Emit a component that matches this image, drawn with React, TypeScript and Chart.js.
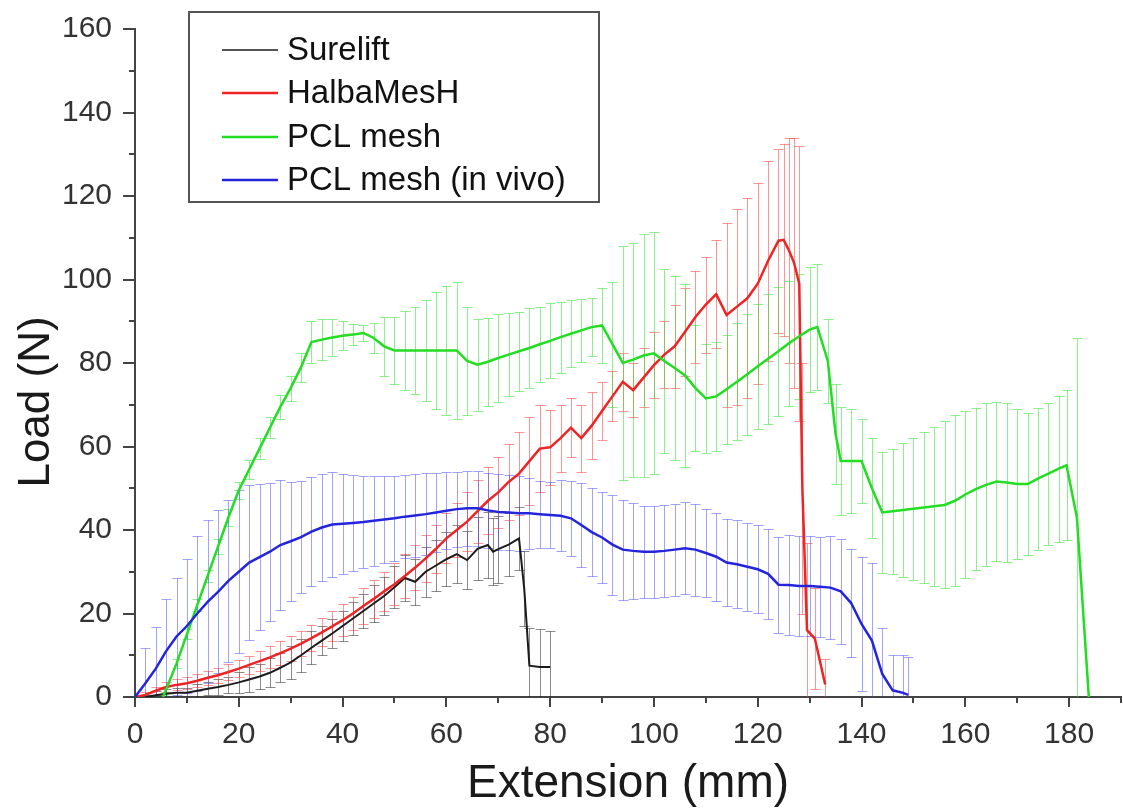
import React, { useEffect, useRef } from "react";
import { Chart, registerables } from "chart.js";

Chart.register(...registerables);

const FONT = '"Liberation Sans", Arial, Helvetica, sans-serif';

const seriesNames = ["Surelift", "HalbaMesH", "PCL mesh", "PCL mesh (in vivo)"];
const xTitle = "Extension (mm)";
const yTitle = "Load (N)";

// Surelift
const sureliftX = [
  2, 4, 6, 8, 10, 12, 14, 16, 18, 20,
  22, 24, 26, 28, 30, 32, 34, 36, 38, 40,
  42, 44, 46, 48, 50, 52, 54, 56, 58, 60,
  62, 64, 66, 68, 69, 70, 72, 74, 75, 76,
  78, 80,
];
const sureliftLoad = [
  0, 0.4, 0.8, 1, 1, 1.5, 2, 2.4, 2.9, 3.5,
  4.2, 4.9, 5.8, 7, 8.3, 10, 11.8, 13.5, 15.2, 17,
  18.8, 20.6, 22.4, 24.2, 26.3, 28.5, 27.6, 30, 31.5, 33,
  34.2, 32.8, 35.5, 36.4, 34.8, 35.4, 36.5, 38, 26, 7.5,
  7.2, 7.2,
];
const sureliftErr = [
  0.5, 1, 1, 1.2, 1.2, 1.5, 1.5, 2, 2, 2.5,
  3, 3, 3.5, 3.5, 4, 4, 4, 3.5, 3.5, 3.5,
  4, 4, 4.5, 4.5, 5, 5.5, 5.5, 6, 6, 6.5,
  7, 7, 7.5, 8, 8, 8, 7.5, 7.5, 9, 9,
  9, 8.5,
];

// HalbaMesH
const halbaX = [
  0, 2, 4, 6, 8, 10, 12, 14, 16, 18,
  20, 22, 24, 26, 28, 30, 32, 34, 36, 38,
  40, 42, 44, 46, 48, 50, 52, 54, 56, 58,
  60, 62, 64, 66, 68, 70, 72, 74, 76, 78,
  80, 82, 84, 86, 88, 90, 92, 94, 96, 98,
  100, 102, 104, 106, 108, 110, 112, 114, 116, 118,
  120, 122, 124, 125, 126, 127, 128, 128.6, 129.5, 131,
  133,
];
const halbaLoad = [
  0, 0.5, 1.5, 2.4, 2.9, 3.3, 3.9, 4.6, 5.2, 6,
  6.8, 7.7, 8.6, 9.5, 10.5, 11.6, 12.8, 14.1, 15.5, 16.9,
  18.4, 20, 21.8, 23.5, 25.3, 27, 29, 31, 33.2, 35.5,
  38, 40, 42, 44.5, 47, 49, 51.5, 53.5, 56.5, 59.5,
  59.8, 62, 64.5, 62, 65, 68.5, 72, 75.5, 73.5, 76.5,
  79.5, 82, 84, 87.5, 91, 94, 96.5, 91.5, 93.5, 95.5,
  99, 104.5, 109.3, 109.5, 107, 104, 99, 50, 16, 14,
  3,
];
const halbaErr = [
  0, 0.8, 1, 1.2, 1.3, 1.5, 1.5, 1.7, 1.8, 2,
  2, 2.2, 2.4, 2.6, 2.8, 3, 3, 3.2, 3.4, 3.6,
  3.8, 4, 4.2, 4.5, 4.7, 5, 5.2, 5.4, 5.6, 5.8,
  6, 6.5, 7, 7.5, 8, 8.5, 9, 10, 10.5, 10.5,
  9, 8, 7, 8, 8, 7, 6, 7, 6.5, 7,
  8, 8, 10, 10.5, 11, 11.5, 13, 22, 23.5, 24,
  24, 24, 22, 23, 27, 30, 33, 30, 21, 12,
  6,
];

// PCL mesh
const pclX = [
  5.4, 8, 10, 12, 14, 16, 18, 20, 22, 24,
  26, 28, 30, 32, 34, 36, 38, 40, 42, 44,
  46, 48, 50, 52, 54, 56, 58, 60, 62, 64,
  66, 68, 70, 72, 74, 76, 78, 80, 82, 84,
  86, 88, 90, 92, 94, 96, 98, 100, 102, 104,
  106, 108, 110, 112, 114, 116, 118, 120, 122, 124,
  126, 128, 130, 131.5, 133.5, 135, 136, 138, 140, 142,
  144, 146, 148, 150, 152, 154, 156, 158, 160, 162,
  164, 166, 168, 170, 172, 174, 176, 178, 179.5, 181.5,
  183.8,
];
const pclLoad = [
  0, 8, 15, 22, 29, 36, 43, 49.5, 54.5, 59.5,
  64.5, 69.5, 74, 79, 85, 85.6, 86.1, 86.5, 86.8, 87.2,
  86, 84, 83, 83, 83, 83, 83, 83, 83, 80.5,
  79.6, 80.3, 81.2, 82, 82.8, 83.6, 84.5, 85.3, 86.2, 87,
  87.8, 88.6, 89, 84.5, 80, 80.8, 81.8, 82.3, 80.5, 78.8,
  77, 74, 71.5, 72, 73.7, 75.5, 77.3, 79.2, 81, 82.8,
  84.7, 86.4, 88, 88.6, 80.5, 63, 56.5, 56.5, 56.5, 50,
  44.2, 44.5, 44.8, 45.1, 45.4, 45.7, 46, 47, 48.5, 49.8,
  50.8, 51.6, 51.4, 51, 51, 52.3, 53.5, 54.7, 55.5, 43,
  0,
];
const pclErr = [
  0.5, 1, 1.2, 1.5, 1.5, 1.8, 2, 2, 2.2, 2.5,
  2.5, 2.8, 3, 3.5, 5, 5, 4.5, 3.5, 2.5, 2,
  3.5, 7, 8, 9.5, 10.5, 12, 14, 15.5, 16.5, 13,
  11, 10.5, 10.5, 10, 9.5, 9.5, 9, 9, 8.5, 8,
  7.5, 7, 9, 15, 28, 28, 29, 29, 22, 22,
  22, 15, 13, 13, 13, 14, 14.5, 15, 15.5, 15.5,
  15, 15, 15, 15, 10, 12, 13, 12.5, 10, 12,
  14.5, 15, 16, 17, 18, 19, 20, 20.5, 20, 19.5,
  19.5, 19, 19, 18, 17, 17, 17, 17.5, 18, 43,
  0,
];

// PCL mesh (in vivo)
const vivoX = [
  0, 2, 4, 6, 8, 10, 12, 14, 16, 18,
  20, 22, 24, 26, 28, 30, 32, 34, 36, 38,
  40, 42, 44, 46, 48, 50, 52, 54, 56, 58,
  60, 62, 64, 66, 68, 70, 72, 74, 76, 78,
  80, 82, 84, 86, 88, 90, 92, 94, 96, 98,
  100, 102, 104, 106, 108, 110, 112, 114, 116, 118,
  120, 122, 124, 126, 128, 130, 132, 134, 136, 138,
  140, 142, 144, 146, 148, 149,
];
const vivoLoad = [
  0, 3.3, 6.8, 11, 14.5, 17, 20, 22.8, 25.2, 27.8,
  30, 32.2, 33.5, 34.8, 36.4, 37.3, 38.3, 39.6, 40.6, 41.3,
  41.5, 41.7, 41.9, 42.2, 42.5, 42.8, 43.2, 43.5, 43.8, 44.2,
  44.6, 45, 45.2, 45.2, 44.7, 44.3, 44.2, 44, 44, 43.8,
  43.6, 43.4, 42.8, 41.2, 39.5, 38.2, 36.5, 35.3, 35, 34.8,
  34.8, 35, 35.3, 35.6, 35.3, 34.5, 33.6, 32.2, 31.8, 31.2,
  30.6, 29.5, 26.9, 26.8, 26.6, 26.6, 26.4, 26.2, 25.3, 22.5,
  17.5, 13.5, 5.5, 1.6, 1, 0.5,
];
const vivoErr = [
  0, 8.5, 10, 12.5, 14, 16, 18.5, 19.5, 19.5, 19.5,
  19.5, 18.5, 17.5, 16.5, 15.5, 14.2, 13.5, 13, 12.7, 12.5,
  12, 11.5, 11, 10.8, 10.5, 10.2, 10, 10, 9.8, 9.5,
  9.2, 9, 9, 9, 9, 9, 9, 9, 8.5, 8,
  8, 8.5, 9, 10, 10.5, 11, 12, 12, 11.5, 11,
  11, 11, 11, 11, 11, 10.5, 10.5, 10.5, 10.5, 10.5,
  10.5, 10.8, 11.5, 12, 12, 12, 12, 12.3, 12.5, 13,
  16, 18.5, 11, 8.5, 9, 9,
];

const lineColors = ["#1c1c1c", "#ee2424", "#22dd22", "#2424dc"];
const errColors = [
  "rgba(0,0,0,0.45)",
  "rgba(255,60,60,0.55)",
  "rgba(50,225,50,0.55)",
  "rgba(70,70,255,0.5)",
];
const lineWidths = [2, 2.5, 2.5, 2.5];

const toPoints = (xs: number[], ys: number[]) => xs.map((x, i) => ({ x, y: ys[i] }));

const errorBarPlugin = {
  id: "errorBars",
  beforeDatasetsDraw(chart: any) {
    const { ctx, chartArea, scales } = chart;
    const xs = scales.x;
    const ys = scales.y;
    const cap = 5;
    ctx.save();
    ctx.beginPath();
    ctx.rect(chartArea.left, chartArea.top, chartArea.right - chartArea.left, chartArea.bottom - chartArea.top);
    ctx.clip();
    ctx.lineWidth = 1;
    chart.data.datasets.forEach((ds: any) => {
      const errs: number[] = ds.errors;
      ctx.strokeStyle = ds.errorColor;
      ds.data.forEach((pt: any, i: number) => {
        const e = errs[i];
        if (!e) return;
        const px = Math.round(xs.getPixelForValue(pt.x)) + 0.5;
        const top = Math.round(ys.getPixelForValue(pt.y + e)) + 0.5;
        const bot = Math.round(ys.getPixelForValue(pt.y - e)) + 0.5;
        ctx.beginPath();
        ctx.moveTo(px, top);
        ctx.lineTo(px, bot);
        ctx.moveTo(px - cap, top);
        ctx.lineTo(px + cap, top);
        ctx.moveTo(px - cap, bot);
        ctx.lineTo(px + cap, bot);
        ctx.stroke();
      });
    });
    ctx.restore();
  },
};

const decorPlugin = {
  id: "decor",
  afterDraw(chart: any) {
    const { ctx, chartArea, scales } = chart;
    ctx.save();
    // tick marks (major + minor)
    ctx.strokeStyle = "#444";
    ctx.lineWidth = 2;
    scales.x.ticks.forEach((t: any) => {
      const px = Math.round(scales.x.getPixelForValue(t.value));
      const len = t.value % 20 === 0 ? 10 : 6;
      ctx.beginPath();
      ctx.moveTo(px, chartArea.bottom);
      ctx.lineTo(px, chartArea.bottom + len);
      ctx.stroke();
    });
    scales.y.ticks.forEach((t: any) => {
      const py = Math.round(scales.y.getPixelForValue(t.value));
      const len = t.value % 20 === 0 ? 12 : 6;
      ctx.beginPath();
      ctx.moveTo(chartArea.left, py);
      ctx.lineTo(chartArea.left - len, py);
      ctx.stroke();
    });

    // axis titles
    ctx.fillStyle = "#1a1a1a";
    ctx.font = `46px ${FONT}`;
    ctx.textAlign = "center";
    ctx.textBaseline = "alphabetic";
    ctx.fillText(xTitle, (chartArea.left + chartArea.right) / 2, 797);
    ctx.save();
    ctx.translate(49, 402);
    ctx.rotate(-Math.PI / 2);
    ctx.font = `44px ${FONT}`;
    ctx.fillText(yTitle, 0, 0);
    ctx.restore();

    // legend box
    const bx = 189, by = 12, bw = 410, bh = 190;
    ctx.fillStyle = "#fff";
    ctx.fillRect(bx, by, bw, bh);
    ctx.strokeStyle = "#555";
    ctx.lineWidth = 2;
    ctx.strokeRect(bx, by, bw, bh);
    const rows = [50, 93, 137, 180];
    ctx.font = `33px ${FONT}`;
    ctx.textAlign = "left";
    ctx.textBaseline = "alphabetic";
    seriesNames.forEach((name, i) => {
      const y = rows[i];
      ctx.strokeStyle = lineColors[i];
      ctx.lineWidth = i === 0 ? 1.5 : 2.5;
      ctx.beginPath();
      ctx.moveTo(222, y);
      ctx.lineTo(278, y);
      ctx.stroke();
      ctx.fillStyle = "#111";
      ctx.fillText(name, 287, y + 10);
    });
    ctx.restore();
  },
};

export default function App() {
  const ref = useRef<HTMLCanvasElement>(null);
  useEffect(() => {
    const sources = [
      [sureliftX, sureliftLoad, sureliftErr],
      [halbaX, halbaLoad, halbaErr],
      [pclX, pclLoad, pclErr],
      [vivoX, vivoLoad, vivoErr],
    ];
    const datasets = sources.map(([xs, ys, es], i) => ({
      label: seriesNames[i],
      data: toPoints(xs, ys),
      errors: es,
      errorColor: errColors[i],
      borderColor: lineColors[i],
      backgroundColor: lineColors[i],
      borderWidth: lineWidths[i],
      pointRadius: 0,
      tension: 0,
      fill: false,
      order: 3 - i,
    }));
    const tickFont = { family: FONT, size: 30 };
    const chart = new Chart(ref.current as HTMLCanvasElement, {
      type: "line",
      data: { datasets: datasets as any },
      options: {
        animation: false,
        responsive: true,
        maintainAspectRatio: false,
        layout: { padding: { top: 29, right: 2, left: 0, bottom: 0 } },
        plugins: { legend: { display: false }, tooltip: { enabled: false } },
        scales: {
          x: {
            type: "linear",
            min: 0,
            max: 190,
            ticks: {
              stepSize: 10,
              autoSkip: false,
              maxRotation: 0,
              padding: 0,
              color: "#333",
              font: tickFont,
              callback: (v: any) => (Number(v) % 20 === 0 ? String(v) : ""),
            },
            grid: { display: false, drawTicks: true, tickLength: 20 },
            border: { display: true, color: "#444", width: 2 },
            afterFit: (s: any) => {
              s.height = 111;
            },
          },
          y: {
            type: "linear",
            min: 0,
            max: 160,
            ticks: {
              stepSize: 10,
              autoSkip: false,
              padding: 0,
              color: "#333",
              font: tickFont,
              callback: (v: any) => (Number(v) % 20 === 0 ? String(v) : ""),
            },
            grid: { display: false, drawTicks: true, tickLength: 23 },
            border: { display: true, color: "#444", width: 2 },
            afterFit: (s: any) => {
              s.width = 135;
            },
          },
        },
      },
      plugins: [errorBarPlugin, decorPlugin],
    });
    return () => chart.destroy();
  }, []);
  return (
    <div style={{ position: "fixed", left: 0, top: 0, width: 1123, height: 808, background: "#fff" }}>
      <canvas ref={ref} />
    </div>
  );
}
